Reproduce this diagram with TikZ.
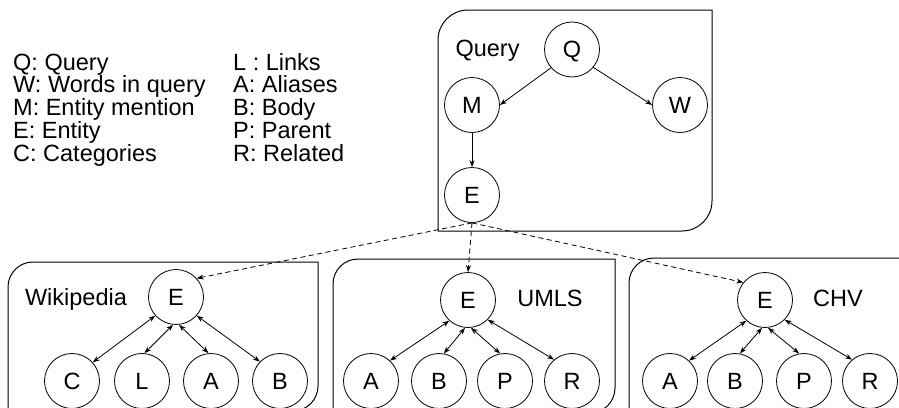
\documentclass[tikz,border=0pt]{standalone}
\usepackage{fontspec}
\setmainfont{Liberation Sans}
\usetikzlibrary{arrows.meta}
\tikzset{
  vnode/.style={circle, draw, line width=0.8pt, minimum size=55pt, inner sep=0pt,
    font=\fontsize{23.5}{23.5}\selectfont, text height=16.8pt, text depth=0pt},
  lbl/.style={font=\fontsize{23.5}{23.5}\selectfont, inner sep=0pt, text height=16.8pt, text depth=0pt},
  leg/.style={font=\fontsize{23.5}{23.5}\selectfont, inner sep=0pt, anchor=base west},
  tip/.style={line width=0.8pt, -{Stealth[length=7pt,width=5pt]}},
  biarr/.style={line width=0.8pt, {Stealth[length=7pt,width=5pt]}-{Stealth[length=7pt,width=5pt]}},
  dasharr/.style={tip, dash pattern=on 5pt off 3.5pt},
  frame/.style={line width=1pt}
}
\begin{document}
\begin{tikzpicture}[x=1pt,y=-1pt]
\useasboundingbox (0,0) rectangle (899,407);
\clip (0,0) rectangle (899,407);

% legend
\node[leg] (l1) at (13,70) {Q: Query};
\node[leg] (l2) at (13,92.75) {W: Words in query};
\node[leg] (l3) at (13,115.5) {M: Entity mention};
\node[leg] (l4) at (13,138.25) {E: Entity};
\node[leg] (l5) at (13,161) {C: Categories};
\node[leg] (r1) at (233,70) {L : Links};
\node[leg] (r2) at (233,92.75) {A: Aliases};
\node[leg] (r3) at (233,115.5) {B: Body};
\node[leg] (r4) at (233,138.25) {P: Parent};
\node[leg] (r5) at (233,161) {R: Related};

% frames: rounded top-left and bottom-right
\draw[frame] (438,231) [rounded corners=30pt] -- (438,10) [sharp corners] -- (712,10)
  [rounded corners=30pt] -- (712,231) [sharp corners] -- cycle;
\draw[frame] (8,411) [rounded corners=25pt] -- (8,262) [sharp corners] -- (318,262)
  [rounded corners=25pt] -- (318,411) [sharp corners] -- cycle;
\draw[frame] (333,413) [rounded corners=25pt] -- (333,259) [sharp corners] -- (615,259)
  [rounded corners=25pt] -- (615,413) [sharp corners] -- cycle;
\draw[frame] (629,413) [rounded corners=25pt] -- (629,258) [sharp corners] -- (930,258)
  [rounded corners=25pt] -- (930,413) [sharp corners] -- cycle;

% query
\node[lbl] (qlab) at (487.5,48.5) {Query};
\node[vnode] (qQ) at (572,49.5) {Q};
\node[vnode] (qM) at (472,105) {M};
\node[vnode] (qW) at (680,105) {W};
\node[vnode] (qE) at (472,195) {E};
\draw[tip] (qQ.221) -- (qM.east);
\draw[tip] (qQ.320) -- (qW.west);
\draw[tip] (qM.south) -- (qE.north);

% wikipedia
\node[lbl] (wlab) at (76,297) {Wikipedia};
\node[vnode] (wE) at (176,297) {E};
\node[vnode] (wC) at (72,381) {C};
\node[vnode] (wL) at (142,381) {L};
\node[vnode] (wA) at (211,381) {A};
\node[vnode] (wB) at (280,381) {B};
\draw[biarr] (wE.222) -- (wC.42);
\draw[biarr] (wE.264) -- (wL.85);
\draw[biarr] (wE.276) -- (wA.95);
\draw[biarr] (wE.318) -- (wB.136);

% umls
\node[lbl] (ulab) at (550,298) {UMLS};
\node[vnode] (uE) at (468,300) {E};
\node[vnode] (uA) at (371,381) {A};
\node[vnode] (uB) at (439,381) {B};
\node[vnode] (uP) at (505,381) {P};
\node[vnode] (uR) at (572,381) {R};
\draw[biarr] (uE.228) -- (uA.47);
\draw[biarr] (uE.264) -- (uB.80);
\draw[biarr] (uE.276) -- (uP.100);
\draw[biarr] (uE.315) -- (uR.130);

% chv
\node[lbl] (clab) at (838,298) {CHV};
\node[vnode] (cE) at (765,300) {E};
\node[vnode] (cA) at (670,381) {A};
\node[vnode] (cB) at (735,381) {B};
\node[vnode] (cP) at (804,381) {P};
\node[vnode] (cR) at (870,381) {R};
\draw[biarr] (cE.228) -- (cA.47);
\draw[biarr] (cE.264) -- (cB.80);
\draw[biarr] (cE.276) -- (cP.100);
\draw[biarr] (cE.315) -- (cR.130);

% dashed links
\draw[dasharr] (qE.south) -- (wE.42);
\draw[dasharr] (qE.south) -- (uE.north);
\draw[dasharr] (qE.south) -- (cE.141);
\end{tikzpicture}
\end{document}
